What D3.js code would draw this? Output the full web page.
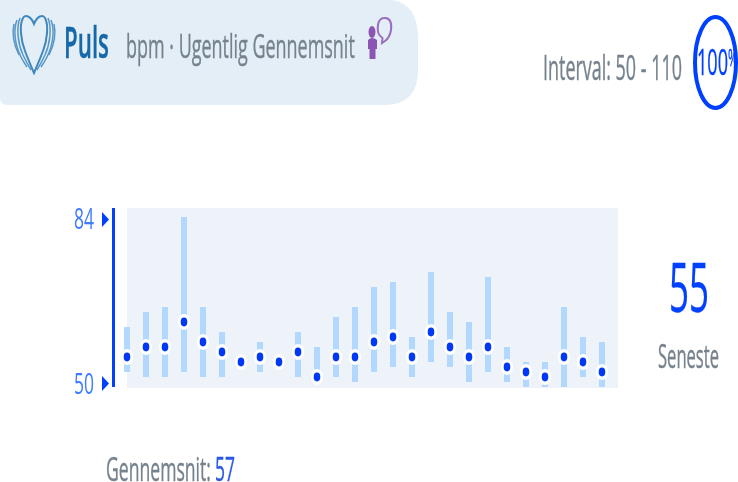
<!DOCTYPE html>
<html>
<head>
<meta charset="utf-8">
<script src="https://cdn.jsdelivr.net/npm/d3@7"></script>
<style>
  html, body { margin: 0; padding: 0; background: #fff; }
  svg { display: block; }
  text { font-family: "Open Sans", sans-serif; }
</style>
</head>
<body>
<svg id="chart" width="738" height="482"></svg>
<script>
// weekly pulse
const means = [56, 58, 58, 63, 59, 57, 55, 56, 55, 57, 52, 56, 56, 59, 60, 56, 61, 58, 56, 58, 54, 53, 52, 56, 55, 53];
const highs = [62, 65, 66, 84, 66, 61, 56, 59, 56, 61, 58, 64, 66, 70, 71, 60, 73, 65, 63, 72, 58, 55, 55, 66, 60, 59];
const lows  = [53, 52, 52, 53, 52, 52, 54, 53, 54, 52, 51, 52, 51, 53, 54, 52, 55, 54, 51, 53, 51, 50, 50, 50, 52, 50];
const axisTicks = [50, 84];

const BLUE = "#0440ff";
const GREY = "#76828d";

const svg = d3.select("#chart");

const defs = svg.append("defs");
defs.append("filter").attr("id", "soft")
    .attr("x", "-5%").attr("y", "-5%").attr("width", "110%").attr("height", "110%")
    .append("feGaussianBlur").attr("stdDeviation", "0.5 0.65");

const root = svg.append("g").attr("filter", "url(#soft)");

// the picture is stretched tall, so squeeze each text to its measured width
function squeeze(sel, x, y, width) {
    const natural = sel.node().getComputedTextLength();
    sel.attr("transform", `translate(${x},${y}) scale(${width / natural},1)`);
    return sel;
}

function label(x, y, str, size, width, color, weight) {
    const t = root.append("text")
        .attr("font-size", size)
        .attr("font-weight", weight || 400)
        .attr("fill", color)
        .attr("stroke", color)
        .attr("stroke-width", 0.4)
        .text(str);
    return squeeze(t, x, y, width);
}

// header panel
root.append("path")
    .attr("d", "M0,0H392Q418,4 418,38V70Q418,105 384,105H8Q0,105 0,98Z")
    .attr("fill", "#e4eef6");

// heart icon
const heart = root.append("g").attr("fill", "none").attr("stroke", "#5596c6").attr("stroke-width", 1.5);
heart.append("path").attr("d", "M34,24C31,16 25,14 23,18C19,25 21,41 25,51C28,59 31,66 34,73C37,66 40,59 43,51C47,41 49,25 45,18C43,14 37,16 34,24Z")
    .attr("stroke-width", 2).attr("stroke", "#3f87bd");
heart.append("path").attr("d", "M20,18C16,28 18,44 23,55C26,61 28,65 31,70");
heart.append("path").attr("d", "M17,20C13,30 15,45 21,57C23,61 25,64 27,67");
heart.append("path").attr("d", "M14,24C12,33 14,45 19,55");
heart.append("path").attr("d", "M48,18C52,28 50,44 45,55C42,61 40,65 37,70");
heart.append("path").attr("d", "M51,20C55,30 53,45 47,57C45,61 43,64 41,67");
heart.append("path").attr("d", "M54,24C56,33 54,45 49,55");

label(64, 58, "Puls", 43, 45, "#1467a8", 600);
label(126, 58, "bpm · Ugentlig Gennemsnit", 33, 229, GREY);

// person with speech bubble
const person = root.append("g").attr("fill", "#8b57b3");
person.append("ellipse").attr("cx", 372).attr("cy", 32).attr("rx", 3.5).attr("ry", 6);
person.append("path").attr("d", "M368,40Q372,36 377,40L377,49L375.5,49L375.5,59L369.5,59L369.5,49L368,49Z");
person.append("path")
    .attr("d", "M384,18C390,17 392,23 391,30C390,36 388,39 385,41L382,43L382.5,38C379,36 377,31 378,25C378.5,21 381,18 384,18Z")
    .attr("fill", "none").attr("stroke", "#9a6cc0").attr("stroke-width", 2);

// interval + compliance ring
label(543, 80, "Interval: 50 - 110", 34, 139, GREY);
root.append("ellipse")
    .attr("cx", 715.5).attr("cy", 62.5).attr("rx", 20.5).attr("ry", 45.5)
    .attr("fill", "none").attr("stroke", BLUE).attr("stroke-width", 4);
const pct = root.append("text")
    .attr("font-size", 36)
    .attr("fill", BLUE)
    .attr("stroke", BLUE)
    .attr("stroke-width", 0.4);
pct.append("tspan").text("100");
pct.append("tspan").attr("font-size", 24).attr("dy", -9).text("%");
squeeze(pct, 697, 75, 41);

// plot
const x = d3.scalePoint().domain(d3.range(means.length)).range([127, 602]);
const y = d3.scaleLinear().domain([50, 84]).range([387, 217]);

root.append("rect")
    .attr("x", 127).attr("y", 208)
    .attr("width", 491).attr("height", 180)
    .attr("fill", "#eef3fa");

root.selectAll(".range")
    .data(means)
    .enter()
    .append("rect")
    .classed("range", true)
    .attr("x", (d, i) => x(i) - 3)
    .attr("width", 6)
    .attr("y", (d, i) => y(highs[i]))
    .attr("height", (d, i) => y(lows[i]) - y(highs[i]))
    .attr("fill", "#b2d9fd");

root.selectAll(".halo")
    .data(means)
    .enter()
    .append("ellipse")
    .classed("halo", true)
    .attr("cx", (d, i) => x(i))
    .attr("cy", d => y(d))
    .attr("rx", 6)
    .attr("ry", 8)
    .attr("fill", "#fff");

root.selectAll(".dot")
    .data(means)
    .enter()
    .append("ellipse")
    .classed("dot", true)
    .attr("cx", (d, i) => x(i))
    .attr("cy", d => y(d))
    .attr("rx", 3.3)
    .attr("ry", 4.4)
    .attr("fill", "#0038f5");

// axis
const axis = root.append("g")
    .attr("transform", "translate(95,0)")
    .call(d3.axisLeft(y).tickValues(axisTicks).tickSize(0));
axis.select(".domain").remove();
axis.selectAll(".tick text")
    .attr("font-family", "Open Sans, sans-serif")
    .attr("font-size", 30)
    .attr("fill", "#3f7bff")
    .attr("text-anchor", "start")
    .attr("x", null)
    .attr("dy", null)
    .each(function (d) {
        squeeze(d3.select(this), -21, d === 50 ? 6 : 11, 20);
    });
axis.selectAll(".tick")
    .append("path")
    .attr("d", d => d === 50 ? "M7,-11.5V3.5L14,-4Z" : "M7,-5.5V9.5L14,2Z")
    .attr("fill", BLUE);

root.append("rect")
    .attr("x", 112).attr("y", 208)
    .attr("width", 3).attr("height", 179)
    .attr("fill", BLUE);

// side and footer
label(669, 312, "55", 68, 40, BLUE);
label(658, 368, "Seneste", 32, 61, GREY);
label(106, 481, "Gennemsnit:", 32, 105, GREY);
label(215, 481, "57", 32, 20, "#2a58e8");
</script>
</body>
</html>
